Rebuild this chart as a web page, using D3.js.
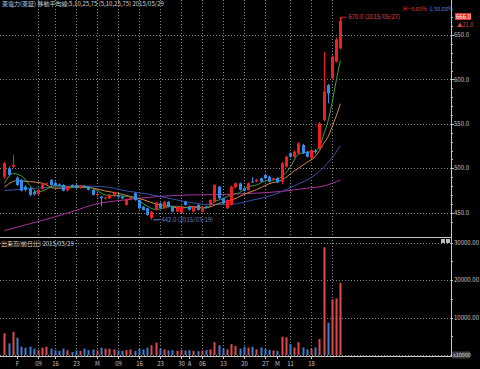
<!DOCTYPE html>
<html>
<head>
<meta charset="utf-8">
<script src="https://cdn.jsdelivr.net/npm/d3@7"></script>
<style>
  html, body { margin: 0; padding: 0; background: #000; }
  svg { display: block; }
  text { font-family: "Noto Sans CJK JP", "DejaVu Sans", sans-serif; }
</style>
</head>
<body>
<script>
// daily bars, 2015/01/28 .. 2015/05/27 (TSE trading days)
var dates = ["01/28","01/29","01/30","02/02","02/03","02/04","02/05","02/06","02/09","02/10",
  "02/12","02/13","02/16","02/17","02/18","02/19","02/20","02/23","02/24","02/25",
  "02/26","02/27","03/02","03/03","03/04","03/05","03/06","03/09","03/10","03/11",
  "03/12","03/13","03/16","03/17","03/18","03/19","03/20","03/23","03/24","03/25",
  "03/26","03/27","03/30","03/31","04/01","04/02","04/03","04/06","04/07","04/08",
  "04/09","04/10","04/13","04/14","04/15","04/16","04/17","04/20","04/21","04/22",
  "04/23","04/24","04/27","04/28","04/30","05/01","05/07","05/08","05/11","05/12",
  "05/13","05/14","05/15","05/18","05/19","05/20","05/21","05/22","05/25","05/26","05/27"];

var opens = [490.5,500,501.8,489.4,486.8,479.3,477.5,473.7,471.1,476.7,
  482,486.8,483.5,482,481.2,475,481.2,481.2,478,480,
  479.3,475.6,470,468.1,466,466.2,468.5,470,468.1,458.7,
  465,471.9,464.3,456.8,455,444,453.1,460.6,455,462.4,
  456.8,451.2,450,462.4,456.8,451.2,458.7,451.2,457,458.7,
  462.4,479.3,466.2,455,458.7,478.6,483.1,477.5,475.6,485,
  485,488.7,492.5,490.5,487,488.7,485,501.8,516.9,513,
  516.9,526.2,518.7,511.3,519.5,522.5,554.4,593.7,601.3,620,635];
var highs = [507.4,502,515,491,488,481,479,475,476.5,483,
  484,488,485,483,482,480,482,482,481,481,
  480,476.5,472,469,468,471,473.5,471,469,466,
  468,473,465,457.5,455.5,452,462,461.5,463,463,
  457.5,457.5,458,463.5,458,457.5,459.5,457.5,458,465,
  482,480,467,465,480.5,484,484,478.5,484,490,
  488,489.5,494,491.5,489.5,490,507,514,518,520,
  529.5,527.5,519.5,521.5,522,552,631,595,627,647,670];
var lows = [488,491,500,480,474,474,469,469.5,470,476,
  481,480,479.5,480,474,474,478.5,477,477,478,
  475,469.5,468,457,465,465.5,468,467,465,458,
  464,463.5,454,452.5,446.5,442,452.5,454,454.5,456,
  450.5,450.5,449.5,458,452.5,450.5,452.5,450.5,455,458,
  461.5,465,459.5,454,458,477.5,475,474,475,484,
  484.5,484,488,484,486,483.5,482,501,512,512,
  516,516,512,510.5,516,521.5,553,573,600,619,634];
var closes = [505.6,492.5,503.7,481.2,474.8,475.6,470,470.7,475.6,482,
  483.1,481.2,480.4,481.2,474.8,479.3,479.3,478,480,479,
  475.6,470,471,466.2,467,470,472.5,468.1,466.2,465.1,
  467,464.3,455,453.1,447.4,451.2,461.3,455,462.4,456.8,
  451.2,456.8,456.8,458.7,453.1,456.8,453.1,456.8,456,464.3,
  481.2,466.2,460.6,464.3,479.3,483.1,475.6,474.8,483.1,484.5,
  487,485,488.7,484.9,488.7,484,505.6,513,513,518.7,
  528,516.9,513,520.6,518.5,550.6,586.2,584.4,625.6,645,666];
// volume, x10000 shares
var volumes = [5800,3100,6200,4600,2200,1950,2200,1700,1300,1950,
  2200,1700,1300,1070,1700,1300,800,1250,1070,1700,
  1300,1500,1250,1950,1700,1700,1500,1250,1070,1300,
  1500,1100,1700,1500,1950,2600,3300,1700,1500,1200,
  1300,1100,1400,1200,1300,1100,1000,1200,1300,1500,
  3400,2600,1800,1500,2900,2400,1700,2200,2000,2200,
  1500,2000,1600,1400,1200,1100,4900,4700,2900,2000,
  3400,2000,1500,1600,2000,4260,28720,8600,14850,15100,19280];

// moving averages: [bar index, value]
var ma5 = [[0,483],[2,494],[4,491.6],[6,481.1],[8,473.3],[10,476.3],[12,480.5],[14,480.1],
  [16,479],[18,478.3],[20,478.4],[22,475.1],[24,470],[26,469.3],[28,468.8],[30,467.8],
  [32,463.5],[34,457.4],[36,453.6],[38,455.5],[40,457.3],[42,456.8],[44,455.3],[46,455.7],
  [48,455.2],[50,462.3],[52,465.7],[54,470.3],[56,472.6],[58,479.2],[60,481],[62,485.7],
  [64,486.9],[66,490.4],[68,500.9],[70,515.7],[72,517.9],[74,519.4],[75,523.9],[76,537.8],
  [77,552.1],[78,573.1],[79,598.4],[80,621.4]];
var ma10 = [[0,479],[3,486],[6,485],[9,483.2],[12,477.5],[15,477.8],[18,479.9],[21,477.8],
  [24,474.5],[27,471.9],[30,468.3],[33,464.8],[36,459.9],[39,457.4],[42,455.2],[45,456.9],
  [48,455.6],[51,460.3],[54,463.9],[57,470.5],[60,475.9],[63,482.6],[66,486.6],[69,496.9],
  [72,506.6],[74,513.1],[75,519.8],[76,527.9],[77,535],[78,546.3],[79,558.9],[80,572.7]];
var ma25 = [[0,475],[6,477],[12,479],[18,480],[24,479.1],[29,474.5],[34,471],[39,466.4],
  [44,461.7],[49,459.2],[54,459.5],[59,464.1],[64,470],[69,480.3],[74,492.7],[79,518.3],[80,525.7]];
var ma75 = [[0,430],[8,440],[16,451],[22,460],[28,464],[36,468],[44,470],[52,470.5],
  [60,472],[66,474],[72,477.5],[76,480],[80,486.8]];

var priceTicks = [450, 500, 550, 600, 650];
var volTicks = [10000, 20000, 30000];
var gridIdx = [8,12,17,22,27,32,37,42,47,52,57,62,68,73,78];
var xLabels = [[3,"F"],[8,"09"],[12,"16"],[17,"23"],[22,"M"],[27,"09"],[32,"16"],[37,"23"],
  [42,"30"],[44,"A"],[47,"06"],[52,"13"],[57,"20"],[62,"27"],[65,"M"],[68,"11"],[73,"18"]];

var W = 480, H = 369, plotR = 451;
var svg = d3.select("body").append("svg").attr("width", W).attr("height", H);
svg.append("rect").attr("width", W).attr("height", H).attr("fill", "#000");

var x = d3.scaleLinear().domain([0, 80]).range([4.4, 340.4]);
var y = d3.scaleLinear().domain([450, 650]).range([212.7, 35]);
var yv = d3.scaleLinear().domain([0, 30000]).range([355, 242.5]);

var RED = "#f01e1e", BLUE = "#2f8ee8", VRED = "#e04a4a", VBLUE = "#3f7fcf";
var grid = "#8a8a8a";

// grid lines
var g = svg.append("g");
g.selectAll(".vg").data(gridIdx).enter().append("line")
  .attr("x1", function (d) { return Math.round(x(d)) + 0.5; })
  .attr("x2", function (d) { return Math.round(x(d)) + 0.5; })
  .attr("y1", 0).attr("y2", 356)
  .attr("stroke", grid).attr("stroke-width", 1).attr("stroke-dasharray", "1,2");
g.selectAll(".hg").data(priceTicks).enter().append("line")
  .attr("x1", 0).attr("x2", plotR)
  .attr("y1", function (d) { return Math.round(y(d)) + 0.5; })
  .attr("y2", function (d) { return Math.round(y(d)) + 0.5; })
  .attr("stroke", grid).attr("stroke-dasharray", "1,2");
g.selectAll(".hv").data([0].concat(volTicks)).enter().append("line")
  .attr("x1", 0).attr("x2", plotR)
  .attr("y1", function (d) { return Math.round(yv(d)) + 0.5; })
  .attr("y2", function (d) { return Math.round(yv(d)) + 0.5; })
  .attr("stroke", grid).attr("stroke-dasharray", "1,2");

// moving averages
var line = d3.line()
  .x(function (d) { return x(d[0]); })
  .y(function (d) { return y(d[1]); })
  .curve(d3.curveMonotoneX);
[[ma75, "#a8329e"], [ma25, "#3552a8"], [ma10, "#d4884a"], [ma5, "#3fa040"]].forEach(function (m) {
  svg.append("path").datum(m[0]).attr("d", line)
    .attr("fill", "none").attr("stroke", m[1]).attr("stroke-width", 1);
});

// candles
var idx = d3.range(closes.length);
var up = function (i) { return closes[i] >= opens[i]; };
var c = svg.append("g");
c.selectAll(".wick").data(idx).enter().append("line")
  .attr("x1", function (i) { return Math.round(x(i)) + 0.5; })
  .attr("x2", function (i) { return Math.round(x(i)) + 0.5; })
  .attr("y1", function (i) { return y(highs[i]); })
  .attr("y2", function (i) { return y(lows[i]); })
  .attr("stroke", function (i) { return up(i) ? RED : BLUE; });
c.selectAll(".body").data(idx).enter().append("rect")
  .attr("x", function (i) { return Math.round(x(i)) - 1; })
  .attr("width", 3)
  .attr("y", function (i) { return y(Math.max(opens[i], closes[i])); })
  .attr("height", function (i) { return Math.max(1, Math.abs(y(opens[i]) - y(closes[i]))); })
  .attr("fill", function (i) { return up(i) ? RED : BLUE; });

// volume bars
svg.append("g").selectAll("rect").data(idx).enter().append("rect")
  .attr("x", function (i) { return Math.round(x(i)) - 0.5; })
  .attr("width", 2)
  .attr("y", function (i) { return yv(volumes[i]); })
  .attr("height", function (i) { return yv(0) - yv(volumes[i]); })
  .attr("fill", function (i) { return up(i) ? VRED : VBLUE; });

// frame
svg.append("line").attr("x1", plotR + 0.5).attr("x2", plotR + 0.5).attr("y1", 0).attr("y2", 357)
  .attr("stroke", "#c8c8c8");
svg.append("line").attr("x1", 0).attr("x2", plotR).attr("y1", 237.5).attr("y2", 237.5)
  .attr("stroke", "#c8c8c8");
svg.append("line").attr("x1", 0).attr("x2", plotR).attr("y1", 356.5).attr("y2", 356.5)
  .attr("stroke", "#c8c8c8");

// right axes
var ax = svg.append("g").attr("font-size", 6).attr("fill", "#c8c8c8");
d3.range(440, 671, 10).forEach(function (v) {
  ax.append("line").attr("x1", plotR).attr("x2", plotR + (v % 50 ? 2 : 3))
    .attr("y1", Math.round(y(v)) + 0.5).attr("y2", Math.round(y(v)) + 0.5).attr("stroke", "#c8c8c8");
});
ax.selectAll(".pl").data(priceTicks).enter().append("text")
  .attr("x", 454).attr("y", function (d) { return y(d) + 2.2; })
  .text(function (d) { return d3.format(".1f")(d); });
d3.range(5000, 30001, 5000).forEach(function (v) {
  ax.append("line").attr("x1", plotR).attr("x2", plotR + 2)
    .attr("y1", Math.round(yv(v)) + 0.5).attr("y2", Math.round(yv(v)) + 0.5).attr("stroke", "#c8c8c8");
});
ax.selectAll(".vl").data(volTicks).enter().append("text")
  .attr("x", 454).attr("y", function (d) { return yv(d) + 2.2; })
  .text(function (d) { return d3.format(".2f")(d); });
svg.append("rect").attr("x", 452).attr("y", 351.5).attr("width", 18).attr("height", 7).attr("fill", "#3a3a3a");
svg.append("text").attr("x", 453).attr("y", 357.3).attr("font-size", 5.5).attr("fill", "#ddd").text("x10000");

// date axis
var xa = svg.append("g").attr("font-size", 6).attr("fill", "#c0c0c0");
xLabels.forEach(function (d) {
  var xp = Math.round(x(d[0])) + 0.5;
  xa.append("line").attr("x1", xp).attr("x2", xp).attr("y1", 356).attr("y2", 359).attr("stroke", "#c8c8c8");
  xa.append("text").attr("x", xp).attr("y", 366).attr("text-anchor", "middle").text(d[1]);
});

// titles
svg.append("text").attr("x", 2).attr("y", 5.5).attr("font-size", 6).attr("fill", "#d0d0d0")
  .text("東電力(東証) 移動平均線:5,10,25,75 (5,10,25,75) 2015/05/29");
svg.append("text").attr("x", 1).attr("y", 246).attr("font-size", 6).attr("fill", "#d0d0d0")
  .text("出来高(前日比) 2015/05/29");
svg.append("rect").attr("x", 441).attr("y", 239).attr("width", 4).attr("height", 4).attr("fill", "#bbb");
svg.append("rect").attr("x", 446).attr("y", 239).attr("width", 4).attr("height", 4).attr("fill", "#bbb");

// high / low annotations
var hi = d3.maxIndex(highs), lo = d3.minIndex(lows);
svg.append("path").attr("d", "M" + (x(hi) + 1) + "," + (y(highs[hi]) + 3) + "V" + y(highs[hi]) + "H" + (x(hi) + 6))
  .attr("fill", "none").attr("stroke", RED);
svg.append("text").attr("x", x(hi) + 8).attr("y", y(highs[hi]) + 2).attr("font-size", 6).attr("fill", "#e04040")
  .text(d3.format(".1f")(highs[hi]) + " (2015/" + dates[hi] + ")");
svg.append("path").attr("d", "M" + (x(lo) + 2) + "," + y(lows[lo]) + "H" + (x(lo) + 9))
  .attr("fill", "none").attr("stroke", "#5a7fd0");
svg.append("text").attr("x", x(lo) + 10).attr("y", y(lows[lo]) + 2).attr("font-size", 6).attr("fill", "#5a7fd0")
  .text(d3.format(".1f")(lows[lo]) + " (2015/" + dates[lo] + ")");

// last price box
var last = closes[closes.length - 1];
svg.append("text").attr("x", 403).attr("y", 11).attr("font-size", 5.5).attr("fill", "#e04040")
  .text("H " + d3.format(".2f")((last / highs[hi] - 1) * 100) + "%");
svg.append("text").attr("x", 430).attr("y", 11).attr("font-size", 5.5).attr("fill", "#5a8ae0")
  .text("L " + d3.format(".2f")((last / lows[lo] - 1) * 100) + "%");
svg.append("rect").attr("x", 455).attr("y", 13).attr("width", 16).attr("height", 7).attr("fill", "#e83030");
svg.append("text").attr("x", 456).attr("y", 18.6).attr("font-size", 6).attr("fill", "#fff").text("666.0");
svg.append("text").attr("x", 457).attr("y", 27).attr("font-size", 5.5).attr("fill", "#e04040").text("▲21.0");
</script>
</body>
</html>
